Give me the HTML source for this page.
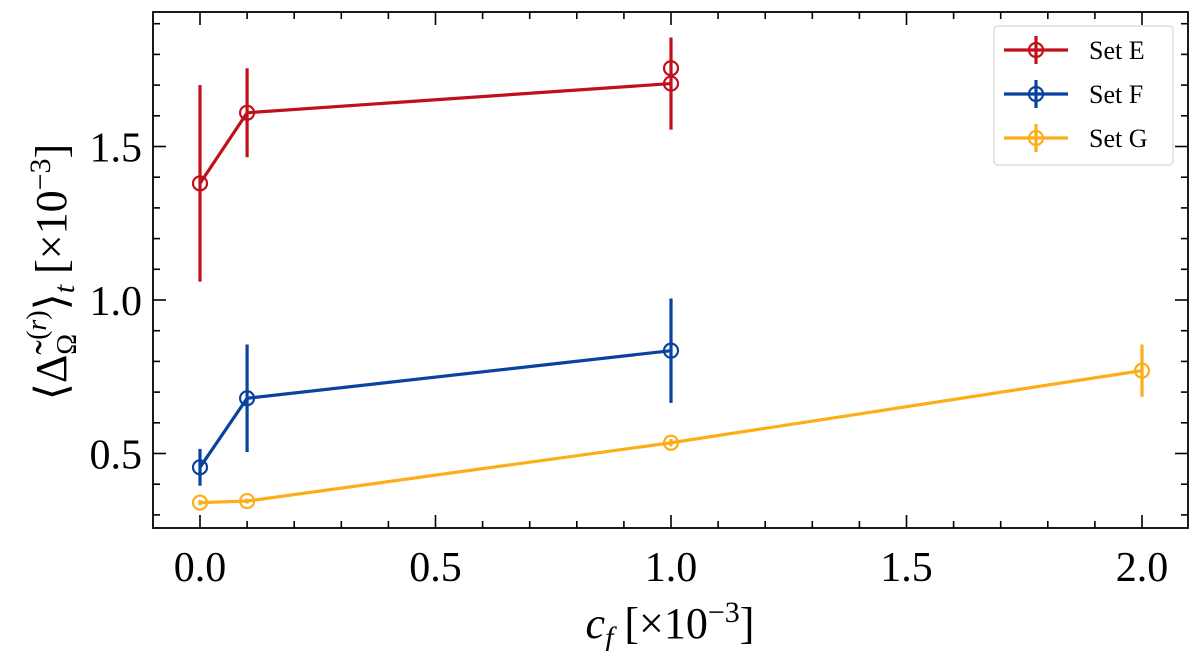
<!DOCTYPE html>
<html><head><meta charset="utf-8"><style>
body{margin:0;background:#fff}
svg text{font-family:"Liberation Serif",serif;fill:#000}
</style></head><body>
<svg id="c" width="1200" height="651" xmlns="http://www.w3.org/2000/svg"></svg>
<script>
const xsE=[0,0.1,1.0];
const ysE=[1.38,1.61,1.705];
const errE=[0.32,0.145,0.15];
const extraX=[1.0];
const extraY=[1.755];
const xsF=[0,0.1,1.0];
const ysF=[0.455,0.68,0.835];
const errF=[0.06,0.175,0.17];
const xsG=[0,0.1,1.0,2.0];
const ysG=[0.34,0.345,0.535,0.77];
const errG=[0.008,0.008,0.012,0.085];
const xTicks=[0,0.5,1.0,1.5,2.0];
const xTickLabels=["0.0","0.5","1.0","1.5","2.0"];
const yTicks=[0.5,1.0,1.5];
const yTickLabels=["0.5","1.0","1.5"];

const L=153,R=1188,T=12,B=528;
const X=v=>200+v*471;
const Y=v=>300-(v-1)*307;
const svg=document.getElementById('c');
const NS='http://www.w3.org/2000/svg';
function mk(tag,attrs,parent){const e=document.createElementNS(NS,tag);for(const k in attrs)e.setAttribute(k,attrs[k]);(parent||svg).appendChild(e);return e;}

const frame=mk('rect',{x:L,y:T,width:R-L,height:B-T,fill:'none',stroke:'#000','stroke-width':1.8});



for(let v=-0.1;v<=2.1001;v+=0.1){
  const px=X(v); if(px<L||px>R)continue;
  const major=xTicks.some(t=>Math.abs(t-v)<1e-6);
  const len=major?13:7;
  mk('line',{x1:px,y1:B,x2:px,y2:B-len,stroke:'#000','stroke-width':1.6});
  mk('line',{x1:px,y1:T,x2:px,y2:T+len,stroke:'#000','stroke-width':1.6});
}
xTicks.forEach((v,i)=>{
  const t=mk('text',{x:X(v),y:581,'font-size':42,'text-anchor':'middle'});
  t.textContent=xTickLabels[i];
  
  
});
for(let v=0.2;v<=1.95;v+=0.1){
  const py=Y(v); if(py<T||py>B)continue;
  const major=yTicks.some(t=>Math.abs(t-v)<1e-6);
  const len=major?13:7;
  mk('line',{x1:L,y1:py,x2:L+len,y2:py,stroke:'#000','stroke-width':1.6});
  mk('line',{x1:R,y1:py,x2:R-len,y2:py,stroke:'#000','stroke-width':1.6});
}
yTicks.forEach((v,i)=>{
  const t=mk('text',{x:142,y:Y(v)+15,'font-size':42,'text-anchor':'end'});
  t.textContent=yTickLabels[i];
  
  
});

const xt=mk('text',{x:670,y:638,'font-size':44,'text-anchor':'middle'});
xt.innerHTML='<tspan font-style="italic">c</tspan><tspan font-style="italic" font-size="30" dy="9">f</tspan><tspan dy="-9"> [×10</tspan><tspan font-size="30" dy="-16">−3</tspan><tspan dy="16">]</tspan>';


const yt=mk('text',{x:0,y:0,'font-size':44,'text-anchor':'middle',transform:'translate(66,272) rotate(-90)'});
yt.innerHTML='<tspan>⟨Δ̃</tspan><tspan font-size="28" dy="10">Ω</tspan><tspan font-size="28" dy="-30" dx="-6">(</tspan><tspan font-size="28" font-style="italic">r</tspan><tspan font-size="28">)</tspan><tspan dy="20">⟩</tspan><tspan font-style="italic" font-size="30" dy="8">t</tspan><tspan dy="-8"> [×10</tspan><tspan font-size="30" dy="-16">−3</tspan><tspan dy="16">]</tspan>';



function series(xs,ys,errs,color,name){
  const g=mk('g',{});
  
  
  mk('polyline',{points:xs.map((x,i)=>X(x)+','+Y(ys[i])).join(' '),fill:'none',stroke:color,'stroke-width':3.2},g);
  xs.forEach((x,i)=>{
    mk('line',{x1:X(x),x2:X(x),y1:Y(ys[i]-errs[i]),y2:Y(ys[i]+errs[i]),stroke:color,'stroke-width':3.2},g);
    const c=mk('circle',{cx:X(x),cy:Y(ys[i]),r:7,fill:'none',stroke:color,'stroke-width':2.2},g);
    
    
  });
  return g;
}
series(xsE,ysE,errE,'#c0101c','series-set-e');
extraX.forEach((x,i)=>{
  const c=mk('circle',{cx:X(x),cy:Y(extraY[i]),r:7,fill:'none',stroke:'#c0101c','stroke-width':2.2});
  
  
});
series(xsF,ysF,errF,'#0a42a0','series-set-f');
series(xsG,ysG,errG,'#fbae17','series-set-g');

const lg=mk('g',{});


mk('rect',{x:994,y:26,width:179,height:139,rx:4,fill:'#fff',stroke:'#ddd','stroke-width':1.5},lg);
[['Set E','#c0101c'],['Set F','#0a42a0'],['Set G','#fbae17']].forEach((d,i)=>{
  const y=50+i*44;
  const e=mk('g',{},lg);
  
  
  mk('line',{x1:1004,x2:1068,y1:y,y2:y,stroke:d[1],'stroke-width':3.2},e);
  mk('line',{x1:1036,x2:1036,y1:y-14,y2:y+14,stroke:d[1],'stroke-width':3.2},e);
  mk('circle',{cx:1036,cy:y,r:7,fill:'none',stroke:d[1],'stroke-width':2.2},e);
  const t=mk('text',{x:1089,y:y+9,'font-size':26},e);
  t.textContent=d[0];
});
</script>
</body></html>
